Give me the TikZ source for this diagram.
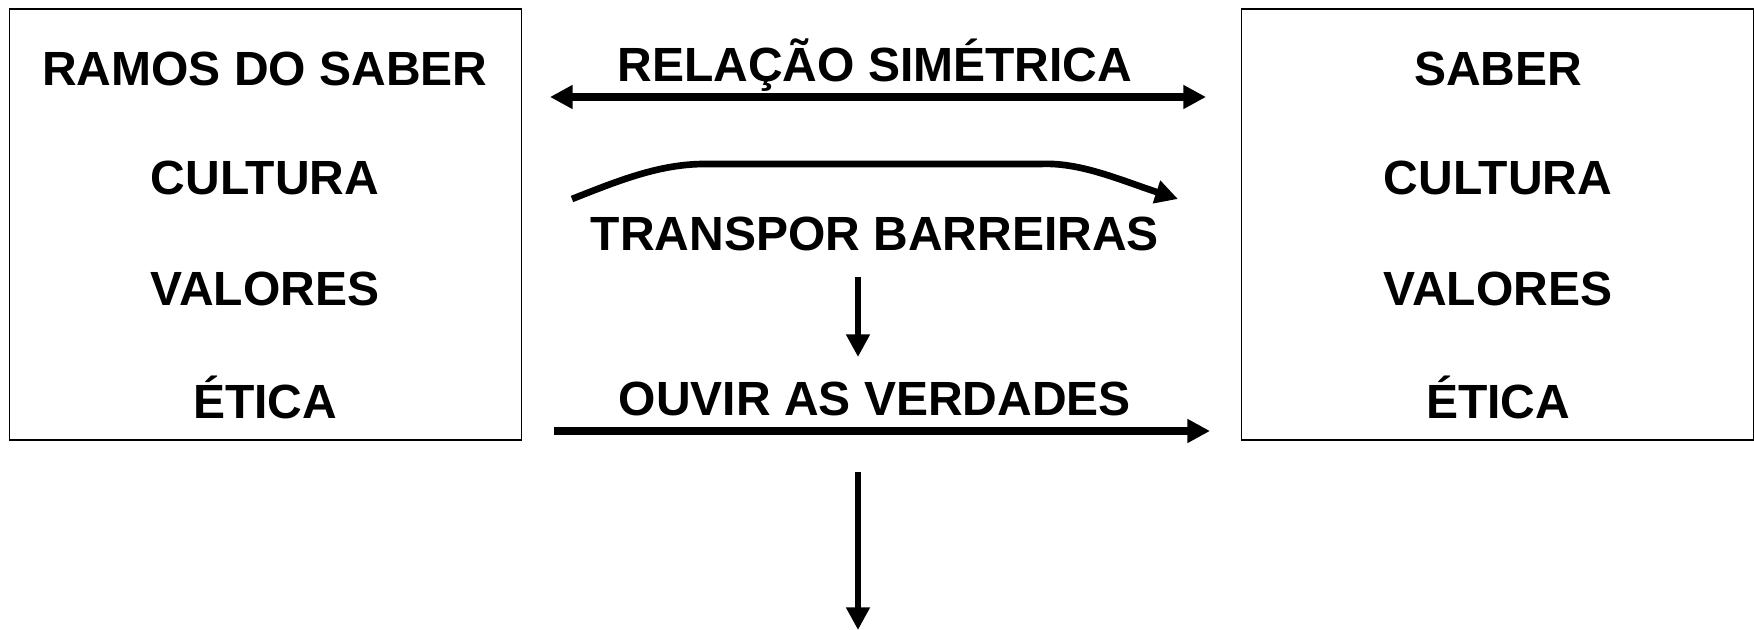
\documentclass[tikz,border=0pt]{standalone}
\usepackage{fontspec}
\setmainfont{Liberation Sans}
\usetikzlibrary{arrows.meta}

\tikzset{
  bigtext/.style={font=\fontsize{36}{40}\selectfont\bfseries, inner sep=0pt},
  frame/.style={draw, line width=1.2pt, minimum width=384pt, minimum height=323pt, inner sep=0pt},
  thick arrow/.style={line width=5.5pt, -{Triangle[length=17pt,width=17pt]}},
  curve arrow/.style={line width=5pt, -{Triangle[length=17pt,width=17pt]}},
  thin arrow/.style={line width=4.5pt, -{Triangle[length=17pt,width=17pt]}},
}

\begin{document}
\begin{tikzpicture}[x=0.75pt,y=0.75pt,yscale=-1,xscale=1]
\useasboundingbox (0,0) rectangle (1754,630);

% Boxes
\node [frame] (leftbox) at (265.5,224.5) {};
\node [frame] (rightbox) at (1497.5,224.5) {};

% Text Node
\node [bigtext] (lsaber) at (265,69) {RAMOS DO SABER};
\node [bigtext] (lcultura) at (265,178) {CULTURA};
\node [bigtext] (lvalores) at (265,289) {VALORES};
\node [bigtext] (letica) at (265,397) {ÉTICA};
% Text Node
\node [bigtext] (rsaber) at (1498,69) {SABER};
\node [bigtext] (rcultura) at (1498,178) {CULTURA};
\node [bigtext] (rvalores) at (1498,289) {VALORES};
\node [bigtext] (retica) at (1498,397) {ÉTICA};
% Text Node
\node [bigtext] (relacao) at (875,65) {RELAÇÃO SIMÉTRICA};
\node [bigtext] (transpor) at (875,234) {TRANSPOR BARREIRAS};
\node [bigtext] (ouvir) at (875,399) {OUVIR AS VERDADES};

% end points
\coordinate (relL) at (550,97);
\coordinate (relR) at (1206,97);
\coordinate (curveA) at (572,199);
\coordinate (curveB) at (1178,199);
\coordinate (ouvL) at (554,431);
\coordinate (ouvR) at (1210,431);
\coordinate (downA) at (858,472);
\coordinate (downB) at (858,630);

% Connection
\draw [thick arrow, {Triangle[length=17pt,width=17pt]}-{Triangle[length=17pt,width=17pt]}] (relL) -- (relR);
% Connection
\draw [curve arrow] (curveA) .. controls (620,180) and (660,164) .. (705,164) -- (1040,164) .. controls (1080,162) and (1120,180) .. (curveB);
% Connection
\draw [thin arrow] (858,277) -- (858,357);
% Connection
\draw [thick arrow] (ouvL) -- (ouvR);
% Connection
\draw [thin arrow] (downA) -- (downB);

\end{tikzpicture}
\end{document}
